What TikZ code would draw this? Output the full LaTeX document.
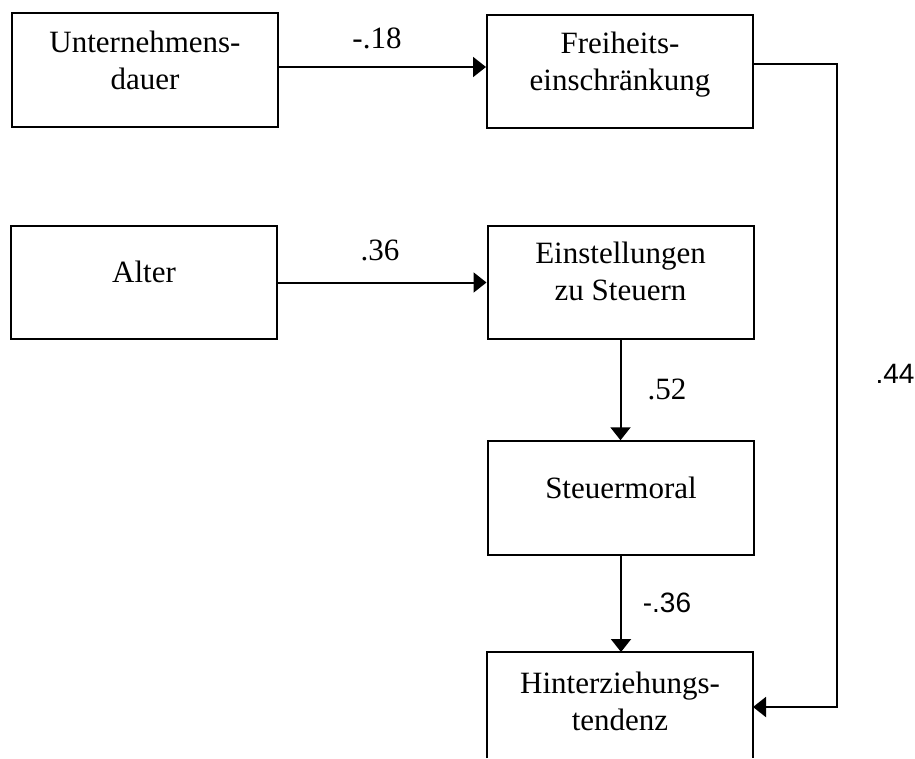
\documentclass[tikz,border=0pt]{standalone}
\usepackage{fontspec}
\setmainfont{Liberation Serif}
\newfontfamily\labsans{Liberation Sans}
\usetikzlibrary{arrows.meta}
\begin{document}
\begin{tikzpicture}[x=1pt,y=-1pt,
  box/.style={draw, line width=2pt, minimum width=266pt, minimum height=113.5pt, inner sep=0pt},
  txt/.style={font=\fontsize{31}{37}\selectfont, inner sep=0pt, anchor=base},
  lab/.style={font=\fontsize{31}{37}\selectfont, inner sep=0pt, anchor=base},
  slab/.style={font=\labsans\fontsize{28}{34}\selectfont, inner sep=0pt, anchor=base},
  conn/.style={line width=2pt, -{Triangle[length=13pt,width=20pt]}}]
\useasboundingbox (0,0) rectangle (915,758);
% boxes
\node[box] (A) at (145,70) {};
\node[box] (F) at (620,71.5) {};
\node[box] (L) at (144,282.5) {};
\node[box] (E) at (620.5,282.5) {};
\node[box] (S) at (621,498) {};
\node[box, draw=none, outer sep=0pt, minimum height=106pt] (H) at (620,705) {};
\draw[line width=2pt] (H.south west) -- (H.north west) -- (H.north east) -- (H.south east);
% box texts
\node[txt] (At) at ([yshift=-40pt]A.north) {\parbox[t]{260pt}{\centering Unternehmens-\\dauer}};
\node[txt] (Ft) at ([yshift=-40pt]F.north) {\parbox[t]{260pt}{\centering Freiheits-\\einschränkung}};
\node[txt] (Lt) at ([yshift=-57.5pt]L.north) {Alter};
\node[txt] (Et) at ([yshift=-39pt]E.north) {\parbox[t]{260pt}{\centering Einstellungen\\zu Steuern}};
\node[txt] (St) at ([yshift=-58pt]S.north) {Steuermoral};
\node[txt] (Ht) at ([yshift=-41pt]H.north) {\parbox[t]{260pt}{\centering Hinterziehungs-\\tendenz}};
% connectors
\coordinate (R) at (837,707);
\draw[conn] (A.east |- 0,67) -- (F.west |- 0,67);
\draw[conn] (L) -- (E);
\draw[conn] (E.south) -- (E.south |- S.north);
\draw[conn] (S.south) -- (S.south |- H.north);
\draw[conn] (F.east |- 0,64) -| (R) -- (H.east |- R);
% labels
\node[lab] (l1) at (377,48) {-.18};
\node[lab] (l2) at (380,260) {.36};
\node[lab] (l3) at (667,399) {.52};
\node[slab] (l4) at (667,612) {-.36};
\node[slab] (l5) at (895,383) {.44};
\end{tikzpicture}
\end{document}
